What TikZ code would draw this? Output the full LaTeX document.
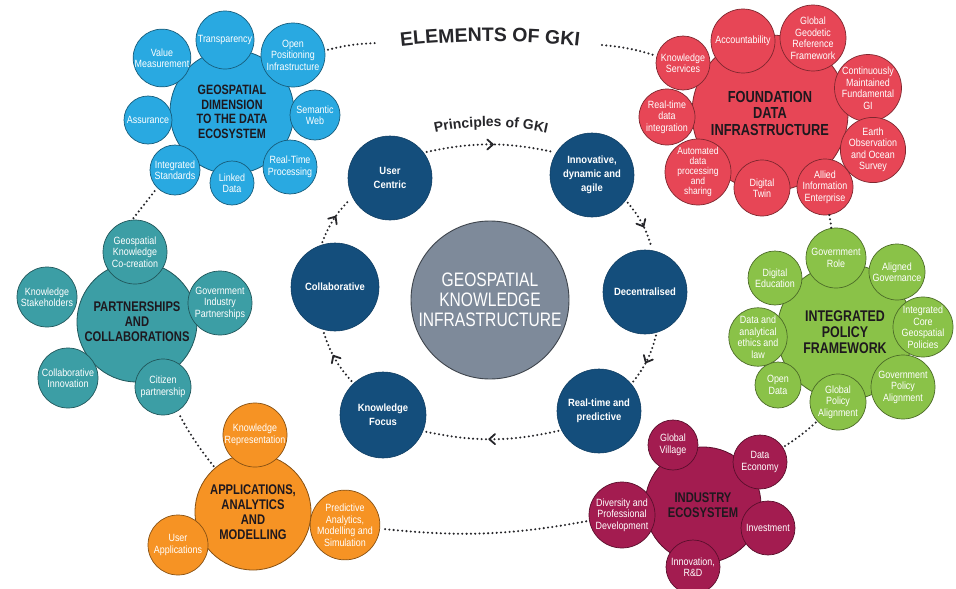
\documentclass[tikz,border=0pt]{standalone}
\usepackage{fontspec}
\setmainfont{Liberation Sans}
\newfontfamily\condf[FakeStretch=0.85]{Liberation Sans}
\newfontfamily\hubf[FakeStretch=0.8]{Liberation Sans}
\newfontfamily\prf[FakeStretch=0.9]{Liberation Sans}
\usetikzlibrary{decorations.markings,decorations.text}
\definecolor{cblue}{RGB}{41,169,225}
\definecolor{cred}{RGB}{231,70,86}
\definecolor{cteal}{RGB}{60,158,165}
\definecolor{cgreen}{RGB}{138,194,72}
\definecolor{corange}{RGB}{246,147,36}
\definecolor{cmag}{RGB}{163,28,80}
\definecolor{cnavy}{RGB}{20,78,124}
\definecolor{cgray}{RGB}{126,138,154}
\definecolor{cdark}{RGB}{38,38,42}
\definecolor{hubtext}{RGB}{30,24,30}
\newcommand\satfont{\condf\fontsize{10.5}{11.5}\selectfont}
\newcommand\prinfont{\prf\bfseries\fontsize{10.5}{14}\selectfont}
\newcommand\hubfont[2]{\hubf\bfseries\fontsize{#1}{#2}\selectfont}
\begin{document}
\begin{tikzpicture}[x=1pt,y=-1pt,
  sat/.style={circle, fill=#1, draw=#1!55!black, line width=0.7pt, text=white, align=center, inner sep=0pt, font=\satfont},
  hub/.style={circle, fill=#1, draw=#1!55!black, line width=0.8pt, text=hubtext, align=center, inner sep=0pt},
  rad/.style={minimum size=#1*2pt},
  prin/.style={circle, fill=cnavy, draw=cnavy!80!black, line width=0.6pt, text=white, align=center, inner sep=0pt, font=\prinfont},
  dotl/.style={draw=cdark, line width=2.3pt, line cap=round, dash pattern=on 0pt off 4.3pt},
  chev/.style={postaction={decorate, decoration={markings, mark=at position 0.5 with {\draw[solid, cdark, line width=1.8pt, line cap=round, line join=round] (-5pt,7pt) -- (3pt,0pt) -- (-5pt,-7pt);}}}}
]
\fill[white] (0,0) rectangle (956,589);
\useasboundingbox (0,0) rectangle (956,589);

% ---------- Blue cluster ----------
\node[hub=cblue, rad=62, font={\hubfont{13.5}{14.5}}] (BH) at (232,112) {GEOSPATIAL\\DIMENSION\\TO THE DATA\\ECOSYSTEM};
\node[sat=cblue, rad=29] (BT) at (225,40) {Transparency};
\node[sat=cblue, rad=28] (BV) at (162,58) {Value\\Measurement};
\node[sat=cblue, rad=32] (BO) at (293,55) {Open\\Positioning\\Infrastructure};
\node[sat=cblue, rad=25] (BS) at (315,115) {Semantic\\Web};
\node[sat=cblue, rad=27] (BR) at (290,167) {Real-Time\\Processing};
\node[sat=cblue, rad=22] (BL) at (232,183) {Linked\\Data};
\node[sat=cblue, rad=25] (BI) at (175,170) {Integrated\\Standards};
\node[sat=cblue, rad=24] (BA) at (148,120) {Assurance};

% ---------- Red cluster ----------
\node[hub=cred, rad=78, font={\hubfont{16}{16.5}}] (RH) at (770,113) {FOUNDATION\\DATA\\INFRASTRUCTURE};
\node[sat=cred, rad=32] (RA) at (743,41) {Accountability};
\node[sat=cred, rad=33] (RG) at (813,38) {Global\\Geodetic\\Reference\\Framework};
\node[sat=cred, rad=33] (RC) at (868,88) {Continuously\\Maintained\\Fundamental\\GI};
\node[sat=cred, rad=31] (RE) at (873,150) {Earth\\Observation\\and Ocean\\Survey};
\node[sat=cred, rad=28] (RAI) at (825,187) {Allied\\Information\\Enterprise};
\node[sat=cred, rad=28] (RD) at (762,188) {Digital\\Twin};
\node[sat=cred, rad=33, font={\condf\fontsize{10}{10.2}\selectfont}] (RAU) at (698,172) {Automated\\data\\processing\\and\\sharing};
\node[sat=cred, rad=28] (RR) at (667,117) {Real-time\\data\\integration};
\node[sat=cred, rad=27] (RK) at (683,63) {Knowledge\\Services};

% ---------- Teal cluster ----------
\node[hub=cteal, rad=60, font={\hubfont{14}{15}}] (TH) at (137,322) {PARTNERSHIPS\\AND\\COLLABORATIONS};
\node[sat=cteal, rad=32] (TG) at (135,252) {Geospatial\\Knowledge\\Co-creation};
\node[sat=cteal, rad=32] (TGI) at (220,303) {Government\\Industry\\Partnerships};
\node[sat=cteal, rad=28] (TC) at (163,387) {Citizen\\partnership};
\node[sat=cteal, rad=30] (TCI) at (68,378) {Collaborative\\Innovation};
\node[sat=cteal, rad=30] (TK) at (47,297) {Knowledge\\Stakeholders};

% ---------- Green cluster ----------
\node[hub=cgreen, rad=68, font={\hubfont{15.5}{16}}] (GH) at (845,332) {INTEGRATED\\POLICY\\FRAMEWORK};
\node[sat=cgreen, rad=30] (GR) at (836,258) {Government\\Role};
\node[sat=cgreen, rad=28] (GA) at (897,272) {Aligned\\Governance};
\node[sat=cgreen, rad=29] (GI) at (923,327) {Integrated\\Core\\Geospatial\\Policies};
\node[sat=cgreen, rad=32] (GP) at (903,387) {Government\\Policy\\Alignment};
\node[sat=cgreen, rad=28] (GG) at (838,402) {Global\\Policy\\Alignment};
\node[sat=cgreen, rad=23] (GO) at (778,385) {Open\\Data};
\node[sat=cgreen, rad=28] (GD) at (758,337) {Data and\\analytical\\ethics and\\law};
\node[sat=cgreen, rad=27] (GE) at (775,278) {Digital\\Education};

% ---------- Orange cluster ----------
\node[hub=corange, rad=58, font={\hubfont{14}{15}}] (OH) at (253,512) {APPLICATIONS,\\ANALYTICS\\AND\\MODELLING};
\node[sat=corange, rad=32] (OK) at (255,435) {Knowledge\\Representation};
\node[sat=corange, rad=33] (OP) at (345,525) {Predictive\\Analytics,\\Modelling and\\Simulation};
\node[sat=corange, rad=30] (OU) at (178,545) {User\\Applications};

% ---------- Magenta cluster ----------
\node[hub=cmag, rad=58, font={\hubfont{14}{15}}] (MH) at (703,505) {INDUSTRY\\ECOSYSTEM};
\node[sat=cmag, rad=25] (MG) at (673,445) {Global\\Village};
\node[sat=cmag, rad=27] (MD) at (760,462) {Data\\Economy};
\node[sat=cmag, rad=27] (MI) at (768,528) {Investment};
\node[sat=cmag, rad=27] (MR) at (693,567) {Innovation,\\R\&D};
\node[sat=cmag, rad=33] (MV) at (622,515) {Diversity and\\Professional\\Development};

% ---------- Centre ----------
\node[circle, fill=cgray, draw=cgray!50!black, line width=0.9pt, rad=79, text=white, align=center, inner sep=0pt, font={\hubf\fontsize{19.5}{20}\selectfont}] (GC) at (490,300) {GEOSPATIAL\\KNOWLEDGE\\INFRASTRUCTURE};
\node[prin, rad=42] (PU) at (390,178) {User\\Centric};
\node[prin, rad=42] (PI) at (592,175) {Innovative,\\dynamic and\\agile};
\node[prin, rad=42] (PD) at (645,292) {Decentralised};
\node[prin, rad=42] (PR) at (599,411) {Real-time and\\predictive};
\node[prin, rad=43] (PK) at (383,415) {Knowledge\\Focus};
\node[prin, rad=44] (PC) at (335,287) {Collaborative};

% principle ring
\draw[dotl, chev, shorten <=3pt, shorten >=3pt] (PU.37) to[bend left=12] (PI.148);
\draw[dotl, chev, shorten <=3pt, shorten >=3pt] (PI.-37) to[bend left=12] (PD.80);
\draw[dotl, chev, shorten <=3pt, shorten >=3pt] (PD.-74) to[bend left=12] (PR.40);
\draw[dotl, chev, shorten <=3pt, shorten >=3pt] (PR.207) to[bend left=12] (PK.-22);
\draw[dotl, chev, shorten <=3pt, shorten >=3pt] (PK.133) to[bend left=12] (PC.-106);
\draw[dotl, chev, shorten <=3pt, shorten >=3pt] (PC.108) to[bend left=12] (PU.207);

\path[decorate, decoration={text along path, text align=center, text color=cdark,
  text={|\bfseries\fontsize{14}{15}\selectfont|Principles of GKI}}]
  (426,135) .. controls (466,124) and (514,124) .. (556,135);

% title
\path[decorate, decoration={text along path, text align=center, text color=cdark,
  text={|\bfseries\fontsize{19.5}{20}\selectfont|ELEMENTS OF GKI}}]
  (380,49) .. controls (450,39) and (530,39) .. (600,49);

% outer ring
\coordinate (tl) at (377,43);
\coordinate (tr) at (602,45);
\draw[dotl, shorten <=3pt] (BO.8) to[bend left=6] (tl);
\draw[dotl, shorten >=3pt] (tr) to[bend left=6] (RK.165);
\draw[dotl] (RAI) -- (GR);
\draw[dotl, shorten <=2pt, shorten >=2pt] (GG) to[bend left=5] (MD);
\draw[dotl, shorten <=3pt, shorten >=3pt] (MV) to[bend left=8] (OP);
\draw[dotl, shorten <=2pt, shorten >=2pt] (OH) to[bend left=5] (TC);
\draw[dotl, shorten <=2pt, shorten >=2pt] (TG.95) -- (BI.225);
\end{tikzpicture}
\end{document}
